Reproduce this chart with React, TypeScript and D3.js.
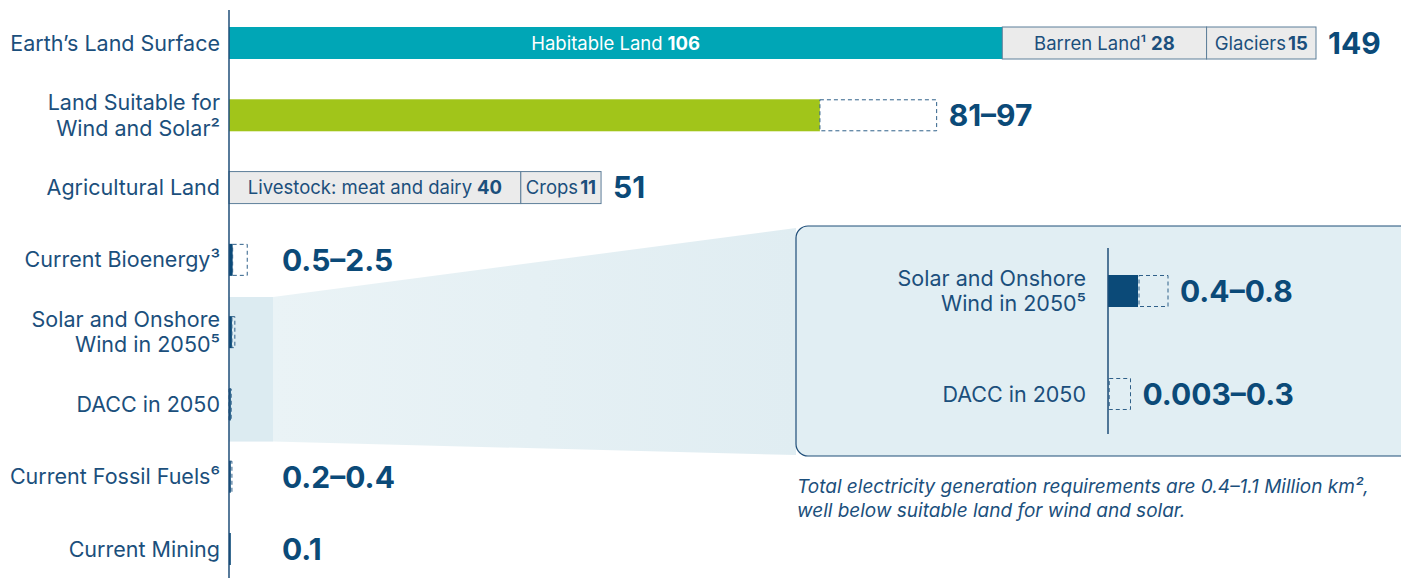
import * as d3 from 'd3';

const categories = [
  'Earth’s Land Surface',
  'Land Suitable for|Wind and Solar²',
  'Agricultural Land',
  'Current Bioenergy³',
  'Solar and Onshore|Wind in 2050⁵',
  'DACC in 2050',
  'Current Fossil Fuels⁶',
  'Current Mining',
];
const lowValues = [149, 81, 51, 0.5, 0.4, 0.003, 0.2, 0.1];
const highValues = [149, 97, 51, 2.5, 0.8, 0.3, 0.4, 0.1];
const valueLabels = ['149', '81–97', '51', '0.5–2.5', '', '', '0.2–0.4', '0.1'];

const earthSegmentNames = ['Habitable Land', 'Barren Land¹', 'Glaciers'];
const earthSegmentValues = [106, 28, 15];
const agriSegmentNames = ['Livestock: meat and dairy', 'Crops'];
const agriSegmentValues = [40, 11];

const insetCategories = ['Solar and Onshore|Wind in 2050⁵', 'DACC in 2050'];
const insetLow = [0.4, 0.003];
const insetHigh = [0.8, 0.3];
const insetLabels = ['0.4–0.8', '0.003–0.3'];

const noteLines = [
  'Total electricity generation requirements are 0.4–1.1 Million km²,',
  'well below suitable land for wind and solar.',
];

const W = 1401;
const H = 578;
const FONT = 'Inter, "Noto Sans", sans-serif';
const NAVY = '#0b4a78';
const TEXT = '#1b4f7c';
const TEAL = '#00a6b6';
const GREEN = '#a1c51a';
const GREY = '#ebebeb';
const EDGE = '#5d7e99';
const DASH = '#2f6089';

function Label({ text, x, y, size = 21.5 }: { text: string; x: number; y: number; size?: number }) {
  const lines = text.split('|');
  const lh = 25.5;
  const y0 = y - ((lines.length - 1) * lh) / 2;
  return (
    <text x={x} textAnchor="end" fontSize={size} fill={TEXT} fontFamily={FONT}>
      {lines.map((l, i) => (
        <tspan key={i} x={x} y={y0 + i * lh} dy="0.35em">
          {l}
        </tspan>
      ))}
    </text>
  );
}

export default function App() {
  const x = d3.scaleLinear().domain([0, 149]).range([229, 1316]);
  const y = d3.scalePoint<string>().domain(categories).range([43, 549]);
  const step = y.step();
  const bh = 32;

  const insetX = d3.scaleLinear().domain([0, 1]).range([1108, 1183]);
  const insetY = d3.scalePoint<string>().domain(insetCategories).range([291, 394]);

  const earthStacks = d3.cumsum(earthSegmentValues);
  const agriStacks = d3.cumsum(agriSegmentValues);

  // zoom band around the two 2050 rows
  const bandTop = y(categories[4])! - step / 2 + 1;
  const bandBot = y(categories[5])! + step / 2 + 1;
  const boxTop = insetY(insetCategories[0])! - 65;
  const boxBot = insetY(insetCategories[1])! + 62;
  const boxLeft = 796;

  return (
    <svg width={W} height={H} style={{ position: 'absolute', left: 0, top: 0 }} fontFamily={FONT}>
      <defs>
        <linearGradient id="fan" x1="0" x2="1" y1="0" y2="0">
          <stop offset="0" stopColor="#eaf3f6" />
          <stop offset="1" stopColor="#e0edf2" />
        </linearGradient>
      </defs>

      <rect x={229} y={bandTop} width={44} height={bandBot - bandTop} fill="#dcebf1" />
      <polygon
        points={`273,${bandTop} ${boxLeft},${boxTop + 2} ${boxLeft},${boxBot - 1} 273,${bandBot}`}
        fill="url(#fan)"
      />
      <rect
        x={boxLeft}
        y={boxTop}
        width={640}
        height={boxBot - boxTop}
        rx={12}
        fill="#e1eef3"
        stroke="#1f4e79"
        strokeWidth={1.2}
      />

      {categories.map((c) => (
        <Label key={c} text={c} x={220} y={y(c)!} />
      ))}

      {/* Earth's land stacked */}
      {earthSegmentNames.map((n, i) => {
        const x0 = x(i === 0 ? 0 : earthStacks[i - 1]);
        const x1 = x(earthStacks[i]);
        const yy = y(categories[0])! - bh / 2;
        return (
          <g key={n}>
            <rect
              x={x0}
              y={yy}
              width={x1 - x0}
              height={bh}
              fill={i === 0 ? TEAL : GREY}
              stroke={i === 0 ? 'none' : EDGE}
              strokeWidth={1}
            />
            <text
              x={(x0 + x1) / 2}
              y={yy + bh / 2}
              dy="0.36em"
              textAnchor="middle"
              fontSize={18.5}
              fill={i === 0 ? '#ffffff' : TEXT}
            >
              {n}
              <tspan fontWeight={700} dx={i === 2 ? 2 : 5}>
                {earthSegmentValues[i]}
              </tspan>
            </text>
          </g>
        );
      })}

      {/* Agricultural stacked */}
      {agriSegmentNames.map((n, i) => {
        const x0 = x(i === 0 ? 0 : agriStacks[i - 1]);
        const x1 = x(agriStacks[i]);
        const yy = y(categories[2])! - bh / 2;
        return (
          <g key={n}>
            <rect x={x0} y={yy} width={x1 - x0} height={bh} fill={GREY} stroke={EDGE} strokeWidth={1} />
            <text
              x={(x0 + x1) / 2}
              y={yy + bh / 2}
              dy="0.36em"
              textAnchor="middle"
              fontSize={18.5}
              fill={TEXT}
            >
              {n}
              <tspan fontWeight={700} dx={i === 1 ? 2 : 5}>
                {agriSegmentValues[i]}
              </tspan>
            </text>
          </g>
        );
      })}

      {/* range bars */}
      {categories.map((c, i) => {
        if (i === 0 || i === 2) return null;
        const yy = y(c)! - bh / 2;
        const lo = x(lowValues[i]);
        const hi = x(highValues[i]);
        const solidFill = i === 1 ? GREEN : NAVY;
        return (
          <g key={c}>
            <rect x={x(0)} y={yy} width={Math.max(lo - x(0), 1.8)} height={bh} fill={solidFill} />
            {hi > lo && (
              <rect
                x={lo}
                y={yy + 0.5}
                width={hi - lo}
                height={bh - 1}
                fill={i === 1 ? '#ffffff' : 'none'}
                stroke={DASH}
                strokeWidth={1}
                strokeDasharray="4 3"
              />
            )}
          </g>
        );
      })}

      {/* main axis */}
      <line x1={229} x2={229} y1={10} y2={H} stroke="#1f4e79" strokeWidth={1.5} />

      {/* value labels */}
      {categories.map((c, i) =>
        valueLabels[i] ? (
          <text
            key={c}
            x={Math.max(x(highValues[i]) + 12, 282)}
            y={y(c)!}
            dy="0.36em"
            fontSize={30}
            fontWeight={700}
            fill={NAVY}
          >
            {valueLabels[i]}
          </text>
        ) : null
      )}

      {/* inset */}
      {insetCategories.map((c, i) => {
        const yy = insetY(c)! - 16;
        const lo = insetX(insetLow[i]);
        const hi = insetX(insetHigh[i]);
        return (
          <g key={c}>
            <Label text={c} x={1086} y={insetY(c)!} />
            <rect x={insetX(0)} y={yy} width={lo - insetX(0)} height={32} fill={NAVY} />
            <rect
              x={lo + 1}
              y={yy + 0.5}
              width={hi - lo - 1}
              height={31}
              fill="none"
              stroke={DASH}
              strokeWidth={1}
              strokeDasharray="4 3"
            />
            <text x={hi + 12} y={insetY(c)!} dy="0.36em" fontSize={30} fontWeight={700} fill={NAVY}>
              {insetLabels[i]}
            </text>
          </g>
        );
      })}
      <line x1={1108} x2={1108} y1={248} y2={434} stroke="#1f4e79" strokeWidth={1.5} />

      {noteLines.map((l, i) => (
        <text key={i} x={797} y={493 + i * 24} fontSize={19} fontStyle="italic" fill={TEXT}>
          {l}
        </text>
      ))}
    </svg>
  );
}
